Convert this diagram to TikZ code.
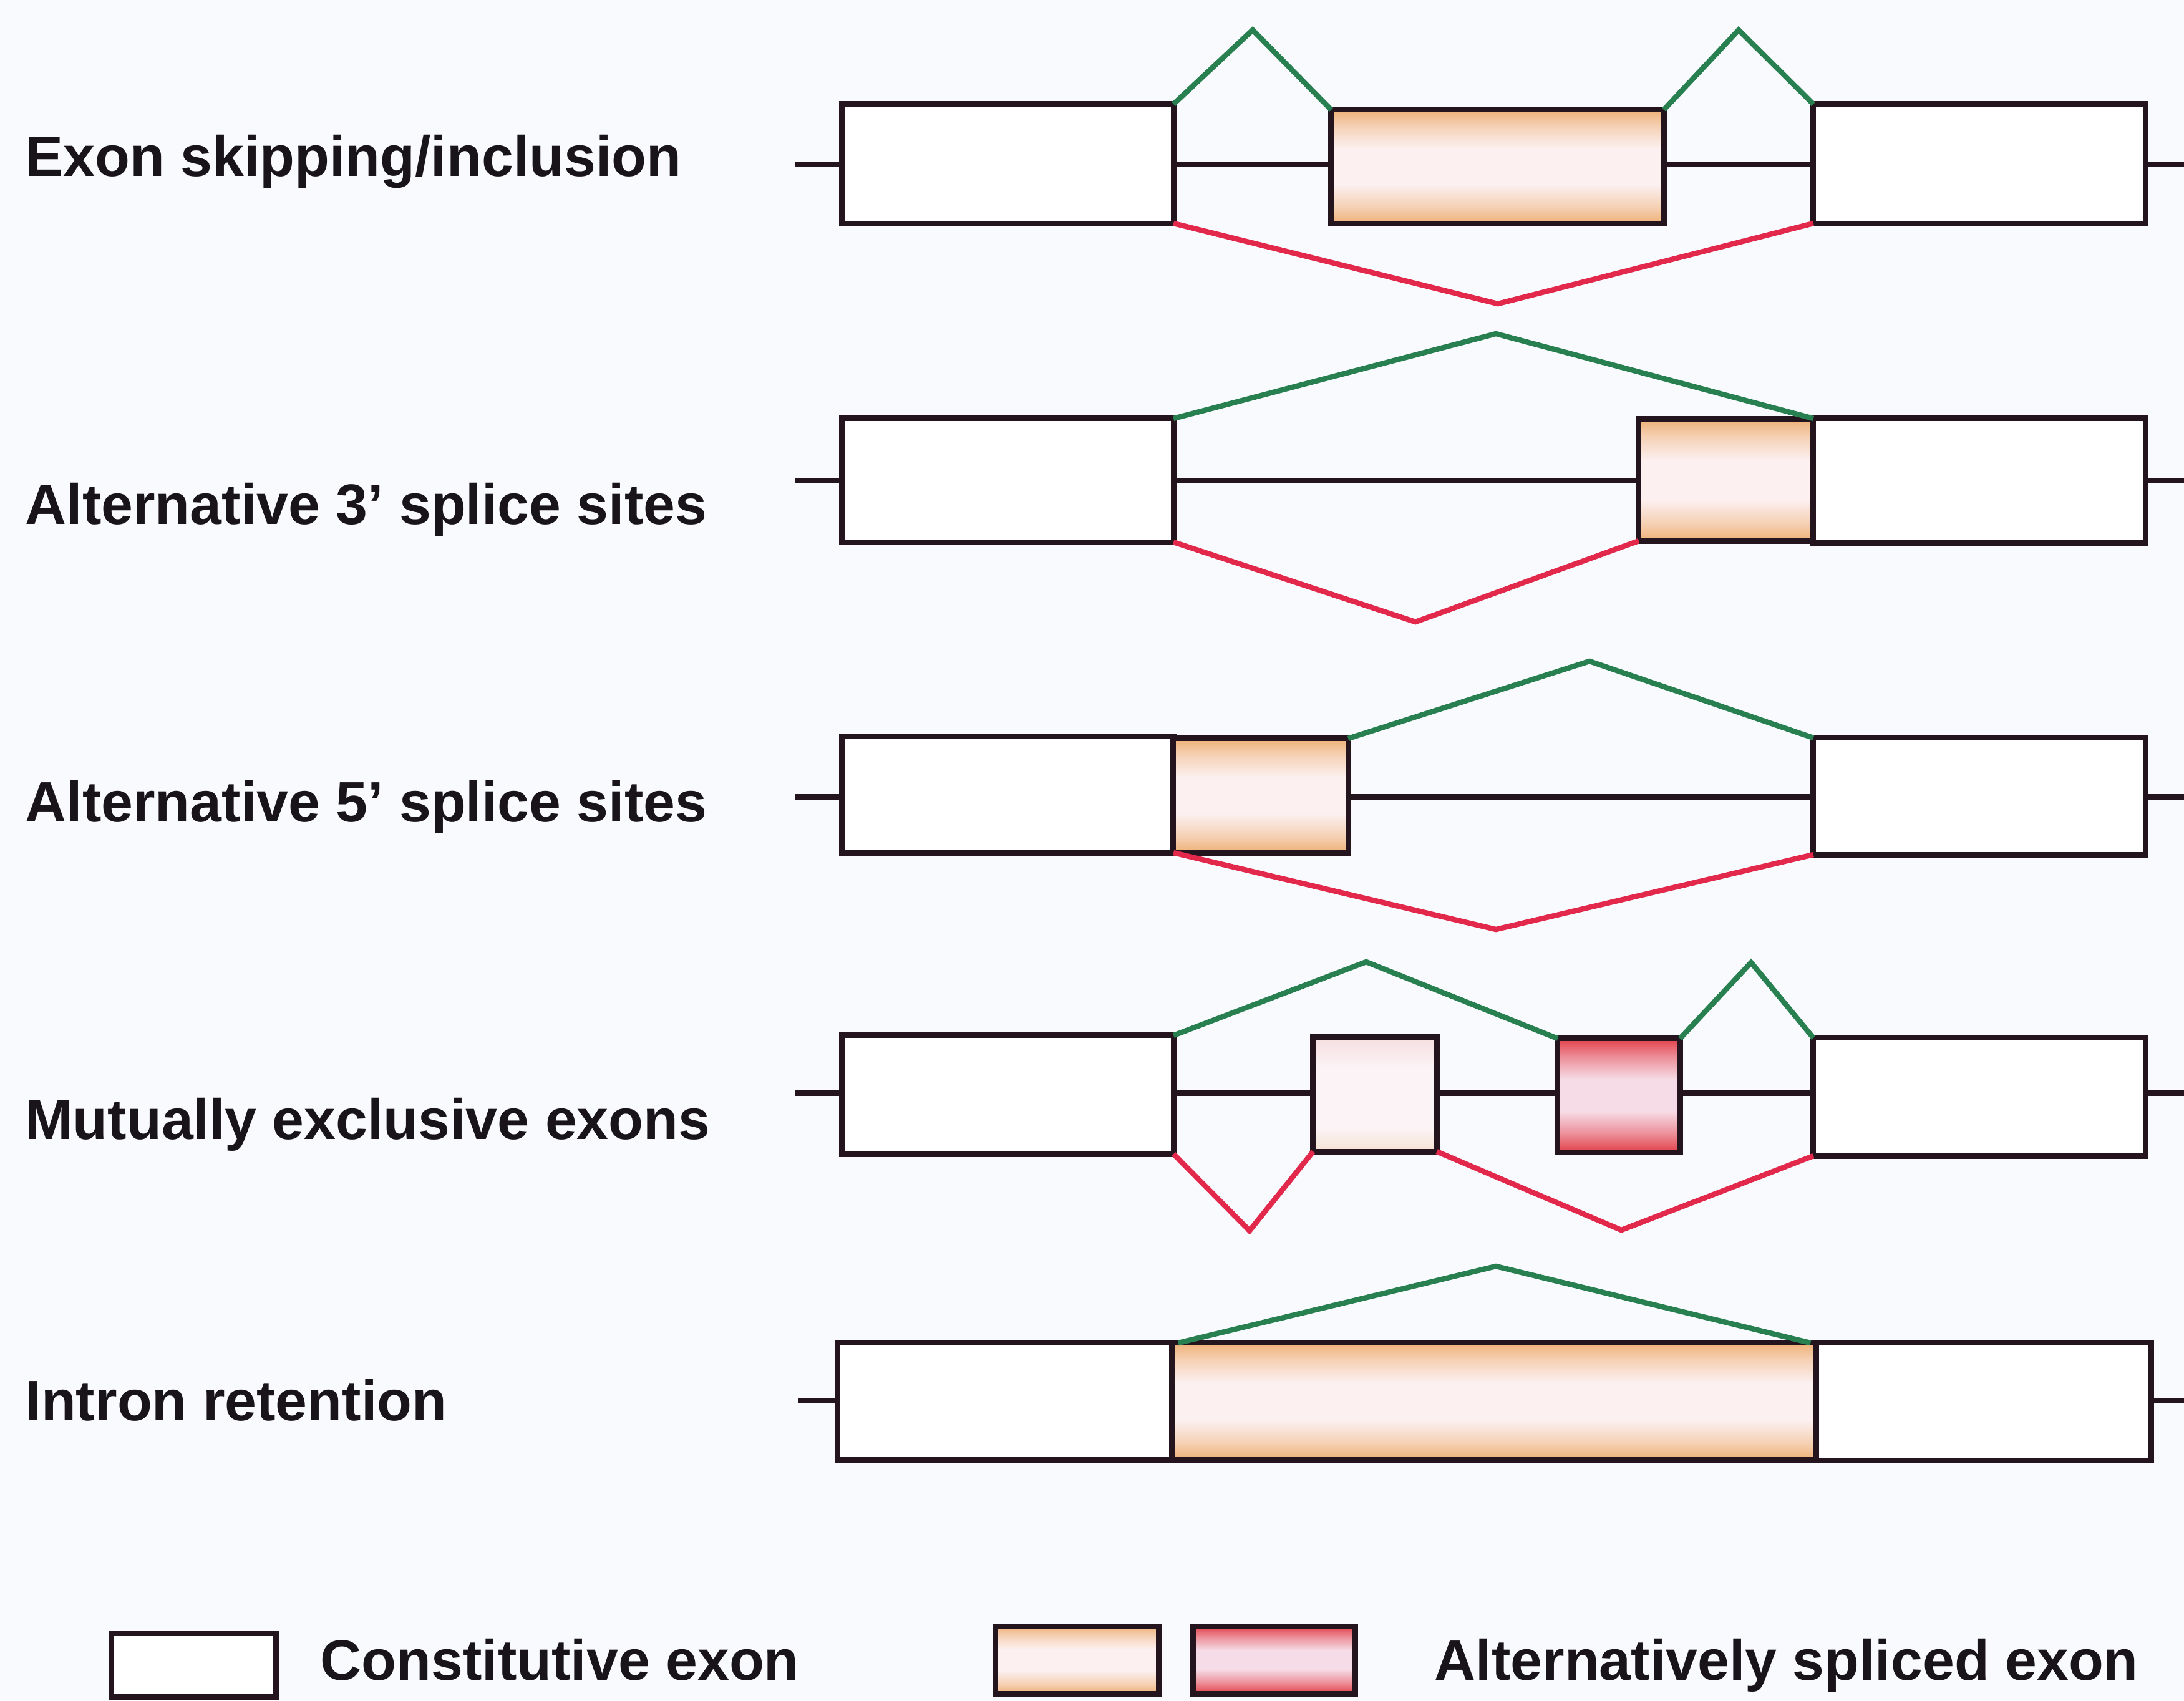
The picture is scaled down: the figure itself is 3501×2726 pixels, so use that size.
\documentclass[tikz,border=0pt]{standalone}
\usepackage{fontspec}
\setmainfont{Liberation Sans}
\definecolor{bgc}{RGB}{248,250,253}
\definecolor{ink}{RGB}{35,20,30}
\definecolor{spg}{RGB}{40,128,80}
\definecolor{spr}{RGB}{226,40,75}
\definecolor{orA}{RGB}{238,176,118}
\definecolor{orM}{RGB}{252,240,240}
\definecolor{rdA}{RGB}{226,64,74}
\definecolor{rdM}{RGB}{246,220,230}
\definecolor{pkA}{RGB}{246,222,224}
\definecolor{pkB}{RGB}{246,226,210}
\definecolor{pkM}{RGB}{251,243,245}
\definecolor{txt}{RGB}{25,20,25}
\pgfdeclareverticalshading{orshade}{100bp}{color(0bp)=(orA); color(25bp)=(orA); color(32bp)=(orA!50!orM); color(42bp)=(orM); color(58bp)=(orM); color(68bp)=(orA!50!orM); color(75bp)=(orA); color(100bp)=(orA)}
\pgfdeclareverticalshading{rdshade}{100bp}{color(0bp)=(rdA); color(25bp)=(rdA); color(33bp)=(rdA!50!rdM); color(43bp)=(rdM); color(57bp)=(rdM); color(67bp)=(rdA!50!rdM); color(75bp)=(rdA); color(100bp)=(rdA)}
\pgfdeclareverticalshading{pkshade}{100bp}{color(0bp)=(pkB); color(25bp)=(pkB); color(35bp)=(pkM); color(62bp)=(pkM); color(75bp)=(pkA); color(100bp)=(pkA)}
\tikzset{
  exonbox/.style={draw=ink, line width=0.09cm, inner sep=0pt, outer sep=0pt, rectangle},
  cex/.style={exonbox, fill=white},
  oex/.style={exonbox, shading=orshade},
  rex/.style={exonbox, shading=rdshade},
  pex/.style={exonbox, shading=pkshade},
  backbone/.style={draw=ink, line width=0.09cm},
  incl/.style={draw=spg, line width=0.085cm, line join=miter},
  skip/.style={draw=spr, line width=0.085cm, line join=miter},
  lbl/.style={anchor=base west, inner sep=0pt, text=txt, font=\fontsize{26pt}{30pt}\selectfont\bfseries},
}
\begin{document}
\begin{tikzpicture}[x=0.01cm, y=-0.01cm]
\fill[bgc] (0,0) rectangle (3501,2726);
\useasboundingbox (0,0) rectangle (3501,2726);

% ---------- labels ----------
\node[lbl] (t1) at (40,282) {Exon skipping/inclusion};
\node[lbl] (t2) at (40,840) {Alternative 3’ splice sites};
\node[lbl] (t3) at (40,1317) {Alternative 5’ splice sites};
\node[lbl] (t4) at (40,1826) {Mutually exclusive exons};
\node[lbl] (t5) at (40,2277) {Intron retention};

% ---------- row 1: exon skipping ----------
\coordinate (l1) at (1275,263);
\coordinate (r1) at (3501,263);
\draw[backbone] (l1) -- (1350,263) -- (3439,263) -- (r1);
\node[cex, minimum width=5.31cm, minimum height=1.91cm] (a1) at (1615.5,262.5) {};
\node[oex, minimum width=5.33cm, minimum height=1.82cm] (e1) at (2400.5,267) {};
\node[cex, minimum width=5.32cm, minimum height=1.91cm] (b1) at (3173,262.5) {};
\coordinate (g1a) at (2008,48);
\coordinate (g1b) at (2787,48);
\coordinate (k1) at (2401,487);
\draw[incl] (a1.north east) -- (g1a) -- (e1.north west);
\draw[incl] (e1.north east) -- (g1b) -- (b1.north west);
\draw[skip] (a1.south east) -- (k1) -- (b1.south west);

% ---------- row 2: alternative 3' ----------
\coordinate (l2) at (1275,770);
\coordinate (r2) at (3501,770);
\draw[backbone] (l2) -- (1350,770) -- (2627,770);
\draw[backbone] (3439,770) -- (r2);
\node[cex, minimum width=5.31cm, minimum height=1.98cm] (a2) at (1615.5,770) {};
\node[oex, minimum width=2.80cm, minimum height=1.95cm] (e2) at (2767,769.5) {};
\node[cex, minimum width=5.32cm, minimum height=1.99cm] (b2) at (3173,770.5) {};
\coordinate (g2) at (2398,535);
\coordinate (k2) at (2269,997);
\draw[incl] (a2.north east) -- (g2) -- (b2.north west);
\draw[skip] (a2.south east) -- (k2) -- (e2.south west);

% ---------- row 3: alternative 5' ----------
\coordinate (l3) at (1275,1277);
\coordinate (r3) at (3501,1277);
\draw[backbone] (l3) -- (1350,1277);
\draw[backbone] (2161,1277) -- (2907,1277);
\draw[backbone] (3439,1277) -- (r3);
\node[cex, minimum width=5.31cm, minimum height=1.86cm] (a3) at (1615.5,1274) {};
\node[oex, minimum width=2.80cm, minimum height=1.83cm] (e3) at (2021,1275.5) {};
\node[cex, minimum width=5.32cm, minimum height=1.87cm] (b3) at (3173,1276.5) {};
\coordinate (g3) at (2548,1060);
\coordinate (k3) at (2398,1490);
\draw[incl] (e3.north east) -- (g3) -- (b3.north west);
\draw[skip] (a3.south east) -- (k3) -- (b3.south west);

% ---------- row 4: mutually exclusive ----------
\coordinate (l4) at (1275,1752);
\coordinate (r4) at (3501,1752);
\draw[backbone] (l4) -- (1350,1752) -- (3439,1752) -- (r4);
\node[cex, minimum width=5.31cm, minimum height=1.90cm] (a4) at (1615.5,1755) {};
\node[pex, minimum width=1.98cm, minimum height=1.83cm] (x4) at (2204,1754.5) {};
\node[rex, minimum width=1.96cm, minimum height=1.82cm] (y4) at (2595,1756) {};
\node[cex, minimum width=5.32cm, minimum height=1.89cm] (b4) at (3173,1758.5) {};
\coordinate (g4a) at (2190,1542);
\coordinate (g4b) at (2807,1543);
\coordinate (k4a) at (2003,1973);
\coordinate (k4b) at (2599,1972);
\draw[incl] (a4.north east) -- (g4a) -- (y4.north west);
\draw[incl] (y4.north east) -- (g4b) -- (b4.north west);
\draw[skip] (a4.south east) -- (k4a) -- (x4.south west);
\draw[skip] (x4.south east) -- (k4b) -- (b4.south west);

% ---------- row 5: intron retention ----------
\coordinate (l5) at (1279,2245);
\coordinate (r5) at (3501,2245);
\draw[backbone] (l5) -- (1343,2245);
\draw[backbone] (3448,2245) -- (r5);
\node[cex, minimum width=5.36cm, minimum height=1.87cm] (a5) at (1611,2246.5) {};
\node[oex, minimum width=10.33cm, minimum height=1.87cm] (i5) at (2395.5,2246.5) {};
\node[cex, minimum width=5.36cm, minimum height=1.88cm] (b5) at (3180,2247) {};
\coordinate (g5) at (2398,2030);
\draw[incl] ([xshift=0.1cm]i5.north west) -- (g5) -- ([xshift=-0.1cm]i5.north east);

% ---------- legend ----------
\node[cex, minimum width=2.63cm, minimum height=1.02cm] (lc) at (310.5,2669) {};
\node[lbl] (lct) at (513,2693) {Constitutive exon};
\node[oex, minimum width=2.61cm, minimum height=1.08cm] (lo) at (1726.5,2661) {};
\node[rex, minimum width=2.59cm, minimum height=1.08cm] (lr) at (2042.5,2661) {};
\node[lbl] (lat) at (2299,2693) {Alternatively spliced exon};
\end{tikzpicture}
\end{document}
